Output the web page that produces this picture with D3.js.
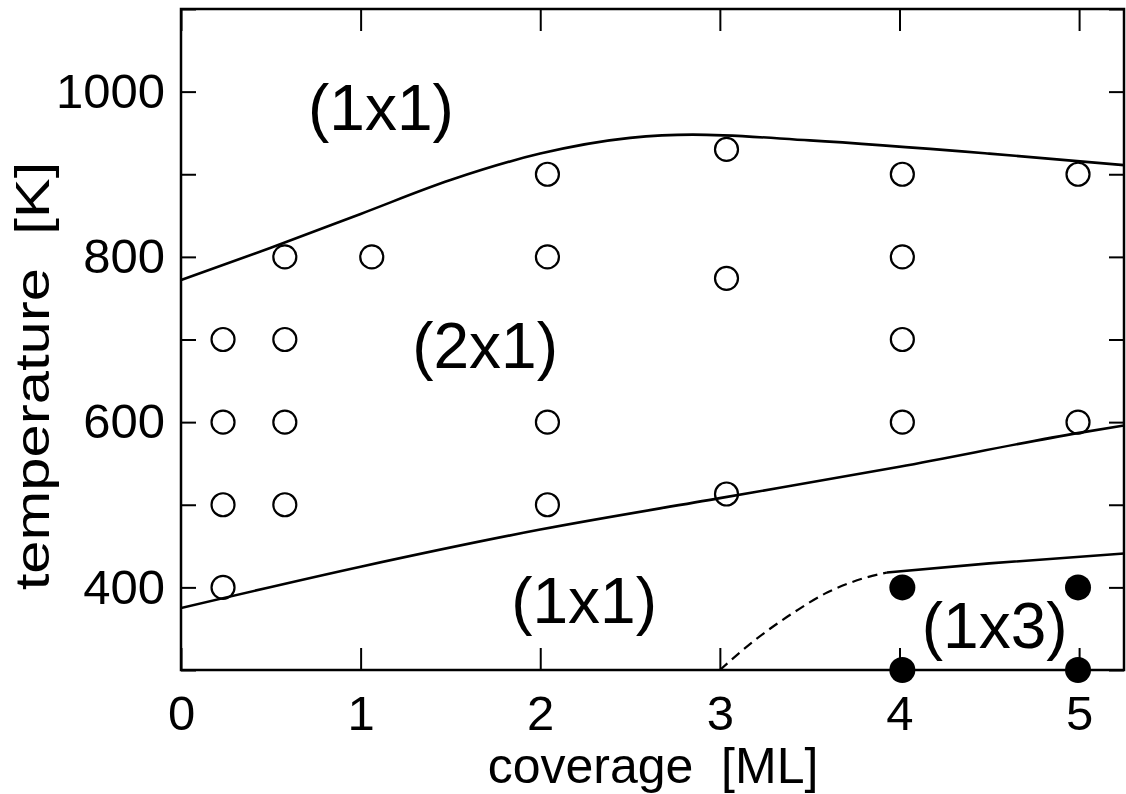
<!DOCTYPE html>
<html>
<head>
<meta charset="utf-8">
<script src="https://cdn.jsdelivr.net/npm/d3@7"></script>
<style>
  html, body { margin: 0; padding: 0; background: #fff; }
  svg text { font-family: "Liberation Sans", Arial, Helvetica, sans-serif; fill: #000; }
</style>
</head>
<body>
<svg id="chart" width="1126" height="794"></svg>
<script>
// ---- data ----
const xTicks = [0, 1, 2, 3, 4, 5];
const yTicks = [300, 400, 500, 600, 700, 800, 900, 1000, 1100];
const yTickLabels = [400, 600, 800, 1000];

const openPoints = [
  [0.234, 700], [0.234, 600], [0.234, 500], [0.234, 400],
  [0.578, 800], [0.578, 700], [0.578, 600], [0.578, 500],
  [1.062, 800],
  [2.04, 900], [2.04, 800], [2.04, 600], [2.04, 500],
  [3.037, 930], [3.037, 774], [3.037, 513],
  [4.016, 900], [4.016, 800], [4.016, 700], [4.016, 600],
  [4.994, 900], [4.994, 600]
];
const filledPoints = [
  [4.016, 400], [4.016, 300], [4.994, 400], [4.994, 300]
];

const upperBoundary = [
  [0, 772], [0.5, 811], [1, 852], [1.5, 893], [2, 925], [2.5, 944],
  [2.85, 948], [3.5, 941], [4.5, 925], [5.25, 911]
];
const lowerBoundary = [
  [0, 375], [1, 425], [2, 470], [3, 508], [4, 546], [5, 587], [5.25, 596]
];
const x3Boundary = [
  [3.93, 418], [4.5, 429], [5.25, 441]
];
const x3Dashed = [
  [3.0, 300], [3.2, 337], [3.4, 368], [3.6, 394], [3.8, 411], [3.93, 418]
];

const regionLabels = [
  { text: "(1x1)", x: 1.113, y: 954 },
  { text: "(2x1)", x: 1.693, y: 666 },
  { text: "(1x1)", x: 2.244, y: 357 },
  { text: "(1x3)", x: 4.53, y: 327 }
];

// ---- layout ----
const margin = { left: 181, right: 2, top: 9, bottom: 124 };
const W = 1126, H = 794;
const svg = d3.select("#chart");

const x = d3.scaleLinear().domain([0, 5.25]).range([margin.left, W - margin.right]);
const y = d3.scaleLinear().domain([300, 1100]).range([H - margin.bottom, margin.top]);

const g = svg.append("g");

// frame
g.append("rect")
  .attr("x", x(0)).attr("y", y(1100))
  .attr("width", x(5.25) - x(0)).attr("height", y(300) - y(1100))
  .attr("fill", "none").attr("stroke", "#000").attr("stroke-width", 2.5);

// axes ticks (inward)
const axB = d3.axisBottom(x).tickValues(xTicks).tickSizeInner(-22).tickSizeOuter(0).tickPadding(25).tickFormat(d3.format("d"));
const axT = d3.axisTop(x).tickValues(xTicks).tickSizeInner(-22).tickSizeOuter(0).tickFormat("");
const axL = d3.axisLeft(y).tickValues(yTicks).tickSizeInner(-15).tickSizeOuter(0).tickPadding(16)
  .tickFormat(d => yTickLabels.includes(d) ? d : "");
const axR = d3.axisRight(y).tickValues(yTicks).tickSizeInner(-15).tickSizeOuter(0).tickFormat("");

function styleAxis(sel) {
  sel.select(".domain").remove();
  sel.selectAll(".tick line").attr("stroke", "#000").attr("stroke-width", 2);
  sel.selectAll(".tick text").attr("font-size", 49).attr("font-family", "Liberation Sans, Arial, sans-serif").attr("fill", "#000");
}
g.append("g").attr("transform", `translate(0,${y(300)})`).call(axB).call(styleAxis);
g.append("g").attr("transform", `translate(0,${y(1100)})`).call(axT).call(styleAxis);
g.append("g").attr("transform", `translate(${x(0)},0)`).call(axL).call(styleAxis);
g.append("g").attr("transform", `translate(${x(5.25)},0)`).call(axR).call(styleAxis);

// clip for curves
svg.append("clipPath").attr("id", "plotclip").append("rect")
  .attr("x", x(0)).attr("y", y(1100))
  .attr("width", x(5.25) - x(0)).attr("height", y(300) - y(1100));

const line = d3.line().x(d => x(d[0])).y(d => y(d[1])).curve(d3.curveMonotoneX);
const curves = g.append("g").attr("clip-path", "url(#plotclip)");
[upperBoundary, lowerBoundary, x3Boundary].forEach(data => {
  curves.append("path").datum(data).attr("d", line)
    .attr("fill", "none").attr("stroke", "#000").attr("stroke-width", 2.6);
});
curves.append("path").datum(x3Dashed).attr("d", line)
  .attr("fill", "none").attr("stroke", "#000").attr("stroke-width", 2.2)
  .attr("stroke-dasharray", "10,6");

// points
g.selectAll("circle.open").data(openPoints).enter().append("circle")
  .attr("class", "open")
  .attr("cx", d => x(d[0])).attr("cy", d => y(d[1])).attr("r", 11.5)
  .attr("fill", "none").attr("stroke", "#000").attr("stroke-width", 2.2);
g.selectAll("circle.filled").data(filledPoints).enter().append("circle")
  .attr("class", "filled")
  .attr("cx", d => x(d[0])).attr("cy", d => y(d[1])).attr("r", 13)
  .attr("fill", "#000");

// region labels
g.selectAll("text.region").data(regionLabels).enter().append("text")
  .attr("class", "region")
  .attr("x", d => x(d.x)).attr("y", d => y(d.y))
  .attr("text-anchor", "middle")
  .attr("font-size", 64)
  .text(d => d.text);

// axis titles
svg.append("text")
  .attr("x", 653).attr("y", 783)
  .attr("text-anchor", "middle").attr("font-size", 50)
  .style("white-space", "pre")
  .text("coverage  [ML]");

svg.append("text")
  .attr("transform", "translate(49,376) rotate(-90) scale(1.22,1)")
  .attr("text-anchor", "middle").attr("font-size", 49)
  .style("white-space", "pre")
  .text("temperature  [K]");
</script>
</body>
</html>
